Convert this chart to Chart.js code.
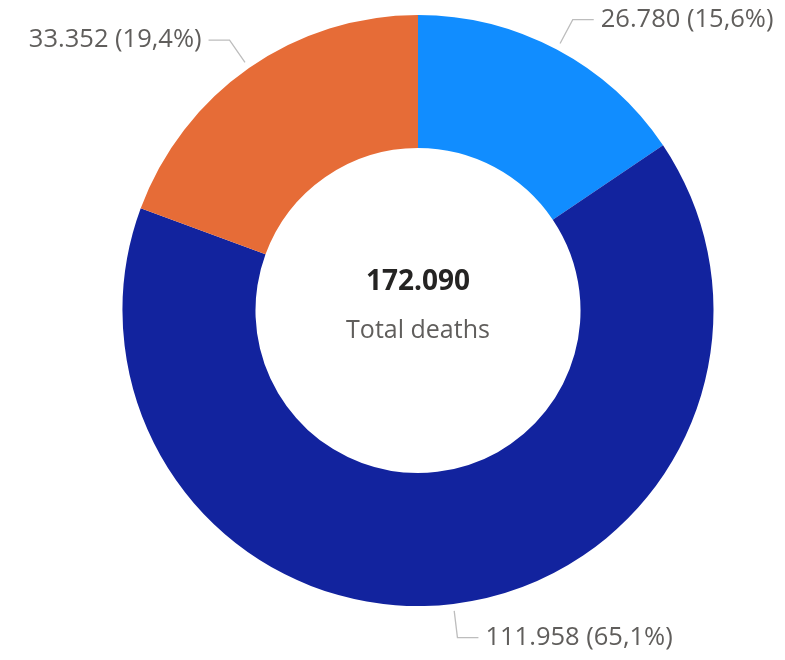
<!DOCTYPE html>
<html>
<head>
<meta charset="utf-8">
<script src="https://cdn.jsdelivr.net/npm/chart.js@4"></script>
<style>
html,body{margin:0;padding:0;background:#fff;}
#wrap{position:relative;width:785px;height:660px;}
</style>
</head>
<body>
<div id="wrap"><canvas id="c" width="785" height="660"></canvas></div>
<script>
const categories = ["Category A", "Category B", "Category C"];
const values = [26780, 111958, 33352];
const colors = ["#118DFF", "#12239E", "#E66C37"];
const valueLabels = ["26.780", "111.958", "33.352"];
const percentLabels = ["15,6%", "65,1%", "19,4%"];
const totalLabel = "172.090";
const centerCaption = "Total deaths";

const FONT = "'Open Sans', 'Noto Sans', sans-serif";

const labelPlugin = {
  id: 'leaderLabels',
  afterDatasetsDraw(chart) {
    const ctx = chart.ctx;
    const meta = chart.getDatasetMeta(0);
    ctx.save();
    meta.data.forEach((arc, i) => {
      const p = arc.getProps(['x','y','startAngle','endAngle','outerRadius'], true);
      const mid = (p.startAngle + p.endAngle) / 2;
      const r1 = p.outerRadius + 7, r2 = p.outerRadius + 34;
      const x1 = p.x + Math.cos(mid) * r1, y1 = p.y + Math.sin(mid) * r1;
      const x2 = p.x + Math.cos(mid) * r2, y2 = p.y + Math.sin(mid) * r2;
      const right = Math.cos(mid) >= 0;
      const x3 = x2 + (right ? 21 : -21);
      ctx.strokeStyle = '#BDBDBD';
      ctx.lineWidth = 1.3;
      ctx.beginPath();
      ctx.moveTo(x1, y1); ctx.lineTo(x2, y2); ctx.lineTo(x3, y2);
      ctx.stroke();
      ctx.fillStyle = '#605E5C';
      ctx.font = "25.5px " + FONT;
      ctx.textBaseline = 'middle';
      ctx.textAlign = right ? 'left' : 'right';
      ctx.fillText(valueLabels[i] + " (" + percentLabels[i] + ")", x3 + (right ? 7 : -7), y2);
    });
    const cx = meta.data[0].x, cy = meta.data[0].y;
    ctx.textAlign = 'center';
    ctx.textBaseline = 'middle';
    ctx.fillStyle = '#252423';
    ctx.font = "bold 28px " + FONT;
    ctx.fillText(totalLabel, cx, cy - 28);
    ctx.fillStyle = '#605E5C';
    ctx.font = "25px " + FONT;
    ctx.fillText(centerCaption, cx, cy + 20);
    ctx.restore();
  }
};

new Chart(document.getElementById('c'), {
  type: 'doughnut',
  data: {
    labels: categories,
    datasets: [{
      data: values,
      backgroundColor: colors,
      borderWidth: 0,
      hoverOffset: 0
    }]
  },
  options: {
    responsive: false,
    animation: false,
    cutout: '55%',
    layout: { padding: { top: 15, bottom: 54, left: 100, right: 49 } },
    plugins: { legend: { display: false }, tooltip: { enabled: false } }
  },
  plugins: [labelPlugin]
});
</script>
</body>
</html>
